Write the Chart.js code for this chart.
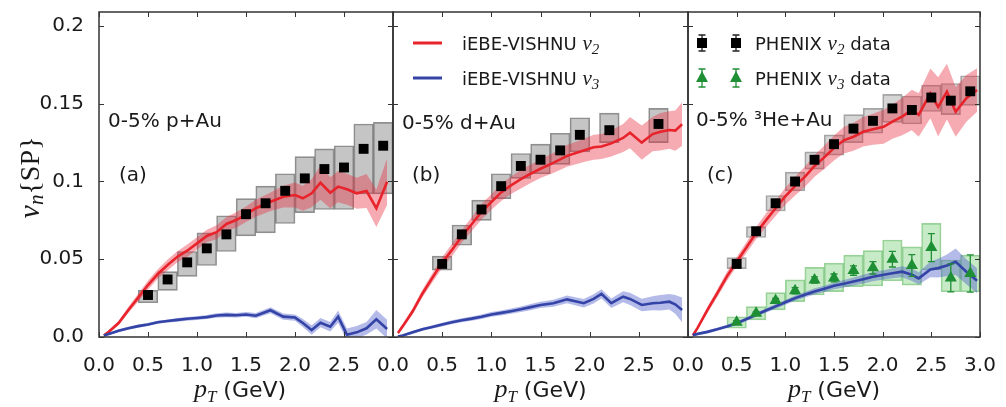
<!DOCTYPE html>
<html>
<head>
<meta charset="utf-8">
<script src="https://cdn.jsdelivr.net/npm/chart.js@4.4.1/dist/chart.umd.min.js"></script>
<style>
html, body { margin: 0; padding: 0; background: #fff; }
#wrap { position: relative; width: 1006px; height: 407px; overflow: hidden; background: #fff; }
canvas { position: absolute; top: 0; }
</style>
</head>
<body>
<div id="wrap">
  <canvas id="cA" width="423" height="407" style="left:0px"></canvas>
  <canvas id="cB" width="355" height="407" style="left:363px"></canvas>
  <canvas id="cC" width="348" height="407" style="left:658px"></canvas>
</div>
<script>
// axes
var xTicks = [0, 0.5, 1.0, 1.5, 2.0, 2.5, 3.0];
var xTickLabels = ['0.0', '0.5', '1.0', '1.5', '2.0', '2.5', '3.0'];
var yTicks = [0, 0.05, 0.1, 0.15, 0.2];
var yTickLabels = ['0.0', '0.05', '0.1', '0.15', '0.2'];

// PHENIX data pT bins
var ptData = [0.5, 0.7, 0.9, 1.1, 1.3, 1.5, 1.7, 1.9, 2.1, 2.3, 2.5, 2.7, 2.9];
var ptDataB = [0.5, 0.7, 0.9, 1.1, 1.3, 1.5, 1.7, 1.9, 2.2, 2.7];

// (a) p+Au
var v2DataA = [0.027, 0.037, 0.048, 0.057, 0.066, 0.079, 0.086, 0.094, 0.102, 0.108, 0.109, 0.121, 0.123];
var v2LoA = [0.022, 0.030, 0.039, 0.046, 0.055, 0.065, 0.067, 0.073, 0.080, 0.082, 0.082, 0.092, 0.092];
var v2HiA = [0.030, 0.042, 0.055, 0.067, 0.078, 0.089, 0.097, 0.105, 0.116, 0.121, 0.123, 0.137, 0.138];
var ptThA = [0.05, 0.1, 0.2, 0.3, 0.4, 0.5, 0.6, 0.7, 0.8, 0.9, 1.0, 1.1, 1.2, 1.3, 1.4, 1.5, 1.6, 1.75, 1.88, 2.0, 2.08, 2.17, 2.26, 2.36, 2.44, 2.53, 2.63, 2.73, 2.83, 2.94];
var v2ThA = [0.001, 0.0034, 0.009, 0.0174, 0.0253, 0.0334, 0.0405, 0.0463, 0.0516, 0.0555, 0.0602, 0.065, 0.0674, 0.0727, 0.0752, 0.0789, 0.0828, 0.087, 0.0902, 0.0913, 0.0892, 0.0924, 0.0992, 0.0928, 0.0967, 0.095, 0.0924, 0.0939, 0.0828, 0.0999];
var e2ThA = [0.001, 0.001, 0.0015, 0.002, 0.0025, 0.003, 0.003, 0.0035, 0.0035, 0.004, 0.004, 0.004, 0.0045, 0.0045, 0.005, 0.005, 0.0055, 0.006, 0.007, 0.008, 0.008, 0.009, 0.011, 0.010, 0.010, 0.010, 0.010, 0.011, 0.012, 0.015];
var v3ThA = [0.001, 0.002, 0.004, 0.0056, 0.007, 0.008, 0.0095, 0.0103, 0.011, 0.0117, 0.0122, 0.0128, 0.0138, 0.0142, 0.014, 0.0145, 0.0137, 0.0172, 0.0131, 0.0125, 0.009, 0.0045, 0.0092, 0.0066, 0.0131, 0.0015, 0.003, 0.0056, 0.0114, 0.0051];
var e3ThA = [0.0005, 0.0007, 0.001, 0.001, 0.001, 0.001, 0.001, 0.001, 0.0012, 0.0012, 0.0012, 0.0013, 0.0014, 0.0015, 0.0015, 0.0015, 0.0017, 0.002, 0.002, 0.002, 0.0025, 0.003, 0.003, 0.003, 0.004, 0.004, 0.004, 0.004, 0.006, 0.006];

// (b) d+Au
var v2DataB = [0.047, 0.066, 0.082, 0.097, 0.110, 0.114, 0.120, 0.130, 0.133, 0.137];
var v2LoB = [0.043, 0.059, 0.075, 0.089, 0.102, 0.105, 0.111, 0.119, 0.125, 0.125];
var v2HiB = [0.052, 0.072, 0.088, 0.105, 0.118, 0.124, 0.131, 0.141, 0.144, 0.147];
var ptThB = [0.05, 0.1, 0.2, 0.3, 0.4, 0.5, 0.6, 0.7, 0.8, 0.9, 1.0, 1.1, 1.2, 1.3, 1.4, 1.5, 1.63, 1.77, 1.94, 2.04, 2.12, 2.22, 2.34, 2.41, 2.53, 2.64, 2.72, 2.81, 2.87, 2.94];
var v2ThB = [0.0026, 0.007, 0.0165, 0.028, 0.038, 0.0478, 0.056, 0.0648, 0.0725, 0.0805, 0.0868, 0.093, 0.0975, 0.1015, 0.105, 0.1082, 0.112, 0.1165, 0.120, 0.122, 0.1225, 0.1245, 0.128, 0.1314, 0.125, 0.1305, 0.132, 0.1331, 0.1327, 0.1368];
var e2ThB = [0.001, 0.0015, 0.002, 0.0025, 0.003, 0.0035, 0.004, 0.004, 0.0045, 0.005, 0.005, 0.0055, 0.0055, 0.006, 0.006, 0.006, 0.0065, 0.007, 0.0075, 0.008, 0.008, 0.0085, 0.009, 0.010, 0.011, 0.011, 0.012, 0.012, 0.013, 0.014];
var v3ThB = [0.0003, 0.001, 0.003, 0.005, 0.0065, 0.008, 0.0095, 0.0108, 0.0118, 0.013, 0.0145, 0.0155, 0.0166, 0.0178, 0.0192, 0.0206, 0.0217, 0.0242, 0.0217, 0.0245, 0.0277, 0.0217, 0.0259, 0.0245, 0.0206, 0.0217, 0.022, 0.0227, 0.021, 0.0174];
var e3ThB = [0.0005, 0.0007, 0.001, 0.001, 0.001, 0.0012, 0.0012, 0.0013, 0.0014, 0.0015, 0.0015, 0.0016, 0.0017, 0.0018, 0.002, 0.002, 0.0022, 0.0025, 0.0028, 0.003, 0.003, 0.003, 0.0035, 0.004, 0.004, 0.0045, 0.005, 0.005, 0.006, 0.008];

// (c) 3He+Au
var v2DataC = [0.047, 0.068, 0.086, 0.100, 0.114, 0.124, 0.134, 0.139, 0.147, 0.146, 0.154, 0.152, 0.158];
var v2LoC = [0.044, 0.064, 0.081, 0.094, 0.108, 0.117, 0.125, 0.131, 0.138, 0.137, 0.145, 0.143, 0.149];
var v2HiC = [0.051, 0.071, 0.091, 0.106, 0.119, 0.130, 0.143, 0.147, 0.156, 0.155, 0.162, 0.163, 0.168];
var v3DataC = [0.0095, 0.0152, 0.0234, 0.0297, 0.0367, 0.038, 0.0427, 0.0445, 0.050, 0.046, 0.0575, 0.038, 0.0408];
var v3LoC = [0.0056, 0.011, 0.0174, 0.0227, 0.027, 0.0292, 0.0324, 0.0328, 0.0362, 0.0334, 0.0431, 0.0291, 0.0291];
var v3HiC = [0.013, 0.0195, 0.0285, 0.0367, 0.0448, 0.0474, 0.0527, 0.0555, 0.0624, 0.058, 0.0731, 0.0495, 0.0527];
var v3StatC = [0.001, 0.001, 0.0015, 0.002, 0.002, 0.0025, 0.003, 0.004, 0.005, 0.007, 0.009, 0.009, 0.012];
var ptThC = [0.05, 0.1, 0.2, 0.3, 0.4, 0.5, 0.6, 0.7, 0.8, 0.9, 1.0, 1.1, 1.2, 1.3, 1.4, 1.5, 1.6, 1.7, 1.8, 1.9, 2.01, 2.1, 2.2, 2.3, 2.37, 2.49, 2.57, 2.66, 2.75, 2.86, 2.97];
var v2ThC = [0.001, 0.006, 0.0174, 0.028, 0.039, 0.0484, 0.0575, 0.0668, 0.075, 0.0828, 0.0905, 0.097, 0.103, 0.110, 0.1155, 0.1215, 0.1265, 0.1288, 0.132, 0.1336, 0.1352, 0.1385, 0.1417, 0.146, 0.1428, 0.1567, 0.148, 0.1578, 0.1448, 0.1535, 0.1588];
var e2ThC = [0.001, 0.001, 0.002, 0.0025, 0.003, 0.003, 0.0035, 0.004, 0.0045, 0.005, 0.0055, 0.006, 0.0065, 0.007, 0.0075, 0.008, 0.0085, 0.009, 0.0095, 0.010, 0.011, 0.011, 0.012, 0.013, 0.014, 0.016, 0.019, 0.018, 0.016, 0.015, 0.014];
var v3ThC = [0.0012, 0.002, 0.0033, 0.005, 0.0068, 0.0088, 0.0115, 0.0143, 0.017, 0.0197, 0.0223, 0.025, 0.0272, 0.0293, 0.031, 0.0329, 0.0342, 0.0357, 0.0372, 0.0388, 0.040, 0.041, 0.042, 0.040, 0.0377, 0.0435, 0.0443, 0.046, 0.0484, 0.042, 0.0362];
var e3ThC = [0.0005, 0.0007, 0.001, 0.001, 0.001, 0.0012, 0.0012, 0.0013, 0.0014, 0.0015, 0.0015, 0.0017, 0.0018, 0.002, 0.002, 0.0022, 0.0024, 0.0026, 0.0028, 0.003, 0.003, 0.0032, 0.0035, 0.004, 0.004, 0.005, 0.006, 0.007, 0.0085, 0.008, 0.008];

var SANS = '"DejaVu Sans"';
var SERIF = '"Liberation Serif"';
var RED = '#e8232b', RED_BAND = 'rgba(232,45,65,0.40)';
var BLUE = '#3343a6', BLUE_BAND = 'rgba(70,85,200,0.40)';
var GREEN = '#1f8f35';
var GRAY_BOX = 'rgba(140,140,140,0.5)';
var TXT = '#1a1a1a';

function pts(xs, ys) { return xs.map(function(x, i) { return { x: x, y: ys[i] }; }); }
function edge(xs, ys, es, s) { return xs.map(function(x, i) { return { x: x, y: ys[i] + s * es[i] }; }); }
function boxes(xs, lo, hi) { return xs.map(function(x, i) { return { x: x, y: [lo[i], hi[i]] }; }); }

function rich(ctx, parts, x, y, center) {
  var w = 0;
  parts.forEach(function(p) { ctx.font = p.f; p.w = ctx.measureText(p.t).width; w += p.w; });
  var cx = center ? x - w / 2 : x;
  ctx.textAlign = 'left';
  ctx.textBaseline = 'alphabetic';
  parts.forEach(function(p) { ctx.font = p.f; ctx.fillText(p.t, cx, y + (p.dy || 0)); cx += p.w; });
}

function vsub(n, size) {
  return [{ t: 'v', f: 'italic ' + size + 'px ' + SERIF }, { t: n, f: 'italic ' + Math.round(size * 0.7) + 'px ' + SERIF, dy: 4 }];
}

function errMark(ctx, x, y, h, color) {
  ctx.strokeStyle = color; ctx.lineWidth = 1.3;
  ctx.beginPath();
  ctx.moveTo(x, y - h); ctx.lineTo(x, y + h);
  ctx.moveTo(x - 3.5, y - h); ctx.lineTo(x + 3.5, y - h);
  ctx.moveTo(x - 3.5, y + h); ctx.lineTo(x + 3.5, y + h);
  ctx.stroke();
}

var decor = {
  id: 'decor',
  afterDatasetsDraw: function(chart, args, o) {
    var ctx = chart.ctx, xs = chart.scales.x, ys = chart.scales.y, a = chart.chartArea;
    ctx.save();
    ctx.beginPath(); ctx.rect(a.left, a.top, a.right - a.left, a.bottom - a.top); ctx.clip();
    (o.errBars || []).forEach(function(eb) {
      eb.x.forEach(function(px, i) {
        var X = xs.getPixelForValue(px);
        var y1 = ys.getPixelForValue(eb.y[i] - eb.e[i]), y2 = ys.getPixelForValue(eb.y[i] + eb.e[i]);
        ctx.strokeStyle = eb.color; ctx.lineWidth = 1.3;
        ctx.beginPath();
        ctx.moveTo(X, y1); ctx.lineTo(X, y2);
        ctx.moveTo(X - 3.5, y1); ctx.lineTo(X + 3.5, y1);
        ctx.moveTo(X - 3.5, y2); ctx.lineTo(X + 3.5, y2);
        ctx.stroke();
      });
    });
    ctx.restore();
  },
  afterDraw: function(chart, args, o) {
    var ctx = chart.ctx, xs = chart.scales.x, ys = chart.scales.y, a = chart.chartArea;
    ctx.save();
    // frame with inward ticks on all sides
    ctx.strokeStyle = '#333'; ctx.lineWidth = 1.5;
    ctx.strokeRect(a.left, a.top, a.right - a.left, a.bottom - a.top);
    ctx.lineWidth = 1;
    ctx.beginPath();
    xTicks.forEach(function(v) {
      var X = Math.round(xs.getPixelForValue(v)) + 0.5;
      ctx.moveTo(X, a.bottom); ctx.lineTo(X, a.bottom - 5);
      ctx.moveTo(X, a.top); ctx.lineTo(X, a.top + 5);
    });
    yTicks.forEach(function(v) {
      var Y = Math.round(ys.getPixelForValue(v)) + 0.5;
      ctx.moveTo(a.left, Y); ctx.lineTo(a.left + 5, Y);
      ctx.moveTo(a.right, Y); ctx.lineTo(a.right - 5, Y);
    });
    ctx.stroke();

    ctx.fillStyle = TXT;
    // panel labels
    (o.notes || []).forEach(function(n) {
      rich(ctx, n.parts, a.left + n.dx, n.y, false);
    });
    // x title
    rich(ctx, [
      { t: 'p', f: 'italic 26px ' + SERIF },
      { t: 'T', f: 'italic 17px ' + SERIF, dy: 5 },
      { t: ' (GeV)', f: '22px ' + SANS }
    ], (a.left + a.right) / 2 + (o.xTitleShift || 0), 397, true);
    // y title
    if (o.yTitle) {
      ctx.save();
      ctx.translate(31, (a.top + a.bottom) / 2 + 3);
      ctx.rotate(-Math.PI / 2);
      rich(ctx, vsub('n', 30).concat([{ t: '{SP}', f: '28px ' + SERIF }]), 0, 8, true);
      ctx.restore();
    }
    // legends
    if (o.lineLegend) {
      [[RED, '2', 43], [BLUE, '3', 78]].forEach(function(r) {
        ctx.strokeStyle = r[0]; ctx.lineWidth = 3;
        ctx.beginPath(); ctx.moveTo(a.left + 20, r[2]); ctx.lineTo(a.left + 49, r[2]); ctx.stroke();
        ctx.fillStyle = TXT;
        rich(ctx, [{ t: 'iEBE-VISHNU ', f: '18px ' + SANS }].concat(vsub(r[1], 21)), a.left + 69, r[2] + 7, false);
      });
    }
    if (o.dataLegend) {
      [14, 48].forEach(function(dx) {
        var X = a.left + dx;
        errMark(ctx, X, 43, 8, '#222');
        ctx.fillStyle = '#000';
        ctx.fillRect(X - 5, 38, 10, 10);
        errMark(ctx, X, 78, 9, GREEN);
        ctx.fillStyle = GREEN;
        ctx.beginPath(); ctx.moveTo(X, 71); ctx.lineTo(X + 6, 82); ctx.lineTo(X - 6, 82); ctx.closePath(); ctx.fill();
      });
      ctx.fillStyle = TXT;
      rich(ctx, [{ t: 'PHENIX ', f: '18px ' + SANS }].concat(vsub('2', 21), [{ t: ' data', f: '18px ' + SANS }]), a.left + 67, 50, false);
      rich(ctx, [{ t: 'PHENIX ', f: '18px ' + SANS }].concat(vsub('3', 21), [{ t: ' data', f: '18px ' + SANS }]), a.left + 67, 85, false);
    }
    ctx.restore();
  }
};

function theory(ds, xs, v, e, color, band, ord) {
  ds.push({ data: edge(xs, v, e, -1), borderWidth: 0, pointRadius: 0, fill: false, order: ord + 1 });
  ds.push({ data: edge(xs, v, e, 1), borderWidth: 0, pointRadius: 0, fill: '-1', backgroundColor: band, order: ord + 1 });
  ds.push({ data: pts(xs, v), borderColor: color, borderWidth: 2.6, pointRadius: 0, fill: false, tension: 0, order: ord });
}

function boxSet(xs, lo, hi, fillC, lineC, ord) {
  return { type: 'bar', data: boxes(xs, lo, hi), backgroundColor: fillC, borderColor: lineC, borderWidth: 1,
    borderSkipped: false, grouped: false, barPercentage: 1, categoryPercentage: 1, order: ord };
}

function squares(xs, v) {
  return { data: pts(xs, v), showLine: false, pointStyle: 'rect', pointRadius: 7, backgroundColor: '#000', borderWidth: 0, order: 1 };
}

function panel(id, ds, o) {
  return new Chart(document.getElementById(id), {
    type: 'line',
    data: { datasets: ds },
    options: {
      responsive: false,
      animation: false,
      events: [],
      layout: { padding: o.pad },
      plugins: { legend: { display: false }, tooltip: { enabled: false }, decor: o.decor },
      scales: {
        x: {
          type: 'linear', min: 0, max: 3, offset: false,
          grid: { display: false }, border: { display: false },
          afterBuildTicks: function(s) { s.ticks = xTicks.map(function(v) { return { value: v }; }); },
          afterFit: function(s) { s.height = 70; s.paddingLeft = 0; s.paddingRight = 0; },
          ticks: {
            autoSkip: false, maxRotation: 0, padding: 9, color: TXT, font: { family: 'DejaVu Sans', size: 20 },
            callback: function(v, i) { return (o.hideLastX && i === xTicks.length - 1) ? '' : xTickLabels[i]; }
          }
        },
        y: {
          type: 'linear', display: o.showY, min: 0, max: 0.209,
          grid: { display: false }, border: { display: false },
          afterBuildTicks: function(s) { s.ticks = yTicks.map(function(v) { return { value: v }; }); },
          afterFit: function(s) { s.width = o.showY ? 99 : 0; s.paddingTop = 0; s.paddingBottom = 0; },
          ticks: {
            padding: 7, color: TXT, font: { family: 'DejaVu Sans', size: 20 },
            callback: function(v, i) { return yTickLabels[i]; }
          }
        }
      }
    },
    plugins: [decor]
  });
}

// panel (a)
var dsA = [];
dsA.push(squares(ptData, v2DataA));
theory(dsA, ptThA, v3ThA, e3ThA, BLUE, BLUE_BAND, 3);
theory(dsA, ptThA, v2ThA, e2ThA, RED, RED_BAND, 5);
dsA.push(boxSet(ptData, v2LoA, v2HiA, GRAY_BOX, 'rgba(70,70,70,0.6)', 9));
panel('cA', dsA, {
  pad: { left: 0, right: 30, top: 12, bottom: 0 }, showY: true, hideLastX: true,
  decor: {
    yTitle: true,
    xTitleShift: -6,
    notes: [
      { dx: 9, y: 127, parts: [{ t: '0-5% p+Au', f: '20px ' + SANS }] },
      { dx: 20, y: 181, parts: [{ t: '(a)', f: '20px ' + SANS }] }
    ]
  }
});

// panel (b)
var dsB = [];
dsB.push(squares(ptDataB, v2DataB));
theory(dsB, ptThB, v3ThB, e3ThB, BLUE, BLUE_BAND, 3);
theory(dsB, ptThB, v2ThB, e2ThB, RED, RED_BAND, 5);
dsB.push(boxSet(ptDataB, v2LoB, v2HiB, GRAY_BOX, 'rgba(70,70,70,0.6)', 9));
panel('cB', dsB, {
  pad: { left: 30, right: 30, top: 12, bottom: 0 }, showY: false, hideLastX: true,
  decor: {
    lineLegend: true,
    notes: [
      { dx: 9, y: 129, parts: [{ t: '0-5% d+Au', f: '20px ' + SANS }] },
      { dx: 19, y: 181, parts: [{ t: '(b)', f: '20px ' + SANS }] }
    ]
  }
});

// panel (c)
var dsC = [];
dsC.push({ data: pts(ptData, v3DataC), showLine: false, pointStyle: 'triangle', pointRadius: 7, backgroundColor: GREEN, borderWidth: 0, order: 0 });
dsC.push(squares(ptData, v2DataC));
theory(dsC, ptThC, v3ThC, e3ThC, BLUE, BLUE_BAND, 3);
theory(dsC, ptThC, v2ThC, e2ThC, RED, RED_BAND, 5);
dsC.push(boxSet(ptData, v3LoC, v3HiC, 'rgba(130,210,130,0.45)', 'rgba(90,180,90,0.6)', 8));
dsC.push(boxSet(ptData, v2LoC, v2HiC, 'rgba(150,150,150,0.4)', 'rgba(80,80,80,0.5)', 9));
panel('cC', dsC, {
  pad: { left: 30, right: 26, top: 12, bottom: 0 }, showY: false, hideLastX: false,
  decor: {
    dataLegend: true,
    errBars: [{ x: ptData, y: v3DataC, e: v3StatC, color: GREEN }],
    notes: [
      { dx: 8, y: 126, parts: [{ t: '0-5% \u00b3He+Au', f: '20px ' + SANS }] },
      { dx: 19, y: 181, parts: [{ t: '(c)', f: '20px ' + SANS }] }
    ]
  }
});
</script>
</body>
</html>
